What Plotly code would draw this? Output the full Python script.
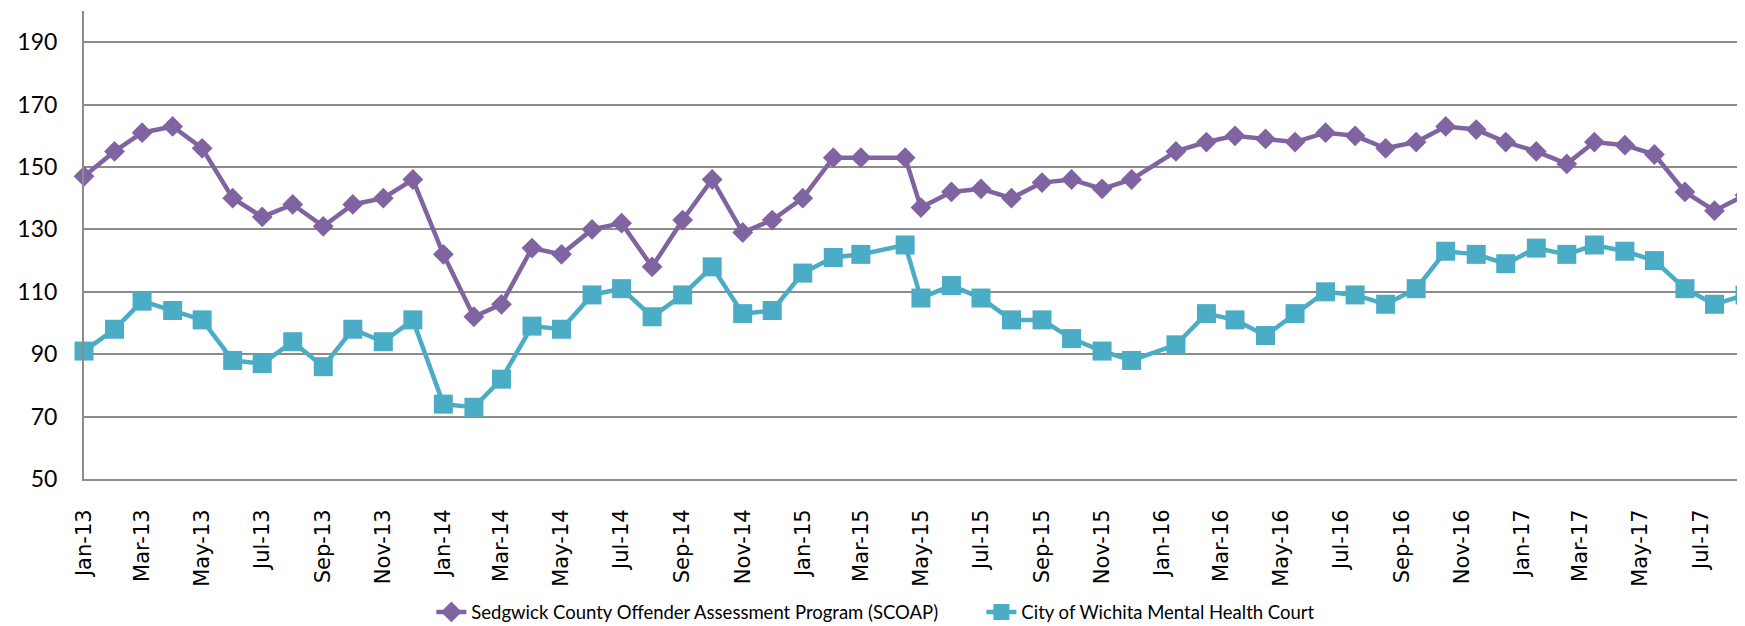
import plotly.graph_objects as go

# ---- data ----
dates = [
    "2013-01-01", "2013-02-01", "2013-03-01", "2013-04-01", "2013-05-01", "2013-06-01",
    "2013-07-01", "2013-08-01", "2013-09-01", "2013-10-01", "2013-11-01", "2013-12-01",
    "2014-01-01", "2014-02-01", "2014-03-01", "2014-04-01", "2014-05-01", "2014-06-01",
    "2014-07-01", "2014-08-01", "2014-09-01", "2014-10-01", "2014-11-01", "2014-12-01",
    "2015-01-01", "2015-02-01", "2015-03-01", "2015-04-15", "2015-05-01", "2015-06-01",
    "2015-07-01", "2015-08-01", "2015-09-01", "2015-10-01", "2015-11-01", "2015-12-01",
    "2016-01-15", "2016-02-15", "2016-03-15", "2016-04-15", "2016-05-15", "2016-06-15",
    "2016-07-15", "2016-08-15", "2016-09-15", "2016-10-15", "2016-11-15", "2016-12-15",
    "2017-01-15", "2017-02-15", "2017-03-15", "2017-04-15", "2017-05-15", "2017-06-15",
    "2017-07-15", "2017-08-15",
]

scoap = [
    147, 155, 161, 163, 156, 140, 134, 138, 131, 138, 140, 146,
    122, 102, 106, 124, 122, 130, 132, 118, 133, 146, 129, 133,
    140, 153, 153, 153, 137, 142, 143, 140, 145, 146, 143, 146,
    155, 158, 160, 159, 158, 161, 160, 156, 158, 163, 162, 158,
    155, 151, 158, 157, 154, 142, 136, 141,
]

mhc = [
    91, 98, 107, 104, 101, 88, 87, 94, 86, 98, 94, 101,
    74, 73, 82, 99, 98, 109, 111, 102, 109, 118, 103, 104,
    116, 121, 122, 125, 108, 112, 108, 101, 101, 95, 91, 88,
    93, 103, 101, 96, 103, 110, 109, 106, 111, 123, 122, 119,
    124, 122, 125, 123, 120, 111, 106, 109,
]

tick_dates = [
    "2013-01-01", "2013-03-01", "2013-05-01", "2013-07-01", "2013-09-01", "2013-11-01",
    "2014-01-01", "2014-03-01", "2014-05-01", "2014-07-01", "2014-09-01", "2014-11-01",
    "2015-01-01", "2015-03-01", "2015-05-01", "2015-07-01", "2015-09-01", "2015-11-01",
    "2016-01-01", "2016-03-01", "2016-05-01", "2016-07-01", "2016-09-01", "2016-11-01",
    "2017-01-01", "2017-03-01", "2017-05-01", "2017-07-01",
]
tick_labels = [
    "Jan-13", "Mar-13", "May-13", "Jul-13", "Sep-13", "Nov-13",
    "Jan-14", "Mar-14", "May-14", "Jul-14", "Sep-14", "Nov-14",
    "Jan-15", "Mar-15", "May-15", "Jul-15", "Sep-15", "Nov-15",
    "Jan-16", "Mar-16", "May-16", "Jul-16", "Sep-16", "Nov-16",
    "Jan-17", "Mar-17", "May-17", "Jul-17",
]

series_names = [
    "Sedgwick County Offender Assessment Program (SCOAP)",
    "City of Wichita Mental Health Court",
]

PURPLE = "#8064A2"
TEAL = "#4BACC6"
GRID = "#8C8C8C"

fig = go.Figure()
fig.add_trace(go.Scatter(
    x=dates, y=scoap, name=series_names[0], mode="lines+markers",
    line=dict(color=PURPLE, width=4.5),
    marker=dict(symbol="diamond", size=16, color=PURPLE),
    cliponaxis=False,
))
fig.add_trace(go.Scatter(
    x=dates, y=mhc, name=series_names[1], mode="lines+markers",
    line=dict(color=TEAL, width=4.5),
    marker=dict(symbol="square", size=19, color=TEAL),
    cliponaxis=False,
))

fig.update_layout(
    width=1745, height=626,
    margin=dict(l=76, r=7, t=3, b=149),
    paper_bgcolor="white", plot_bgcolor="white",
    showlegend=True,
    legend=dict(
        orientation="h", x=0.209, xanchor="left", y=-0.285, yanchor="middle",
        font=dict(family="Lato, Liberation Sans, sans-serif", size=18.5, color="#000000"),
        itemwidth=30, entrywidth=505,
    ),
    font=dict(family="Lato, Liberation Sans, sans-serif", color="#000000"),
)

fig.update_xaxes(
    type="date",
    range=["2013-01-01", "2017-08-16"],
    tickvals=tick_dates, ticktext=tick_labels,
    tickangle=-90,
    tickfont=dict(family="DejaVu Sans, Verdana, sans-serif", size=21, color="#000000"),
    showgrid=False,
    showline=True, linecolor=GRID, linewidth=2,
    ticks="", ticklabelstandoff=20,
    zeroline=False,
)
fig.update_yaxes(
    range=[50, 200],
    tick0=50, dtick=20,
    tickfont=dict(family="Lato, Liberation Sans, sans-serif", size=23, color="#000000"),
    showgrid=True, gridcolor=GRID, gridwidth=2,
    showline=True, linecolor=GRID, linewidth=2,
    ticks="", ticklabelstandoff=20,
    zeroline=False,
)

fig.write_html("out.html")
